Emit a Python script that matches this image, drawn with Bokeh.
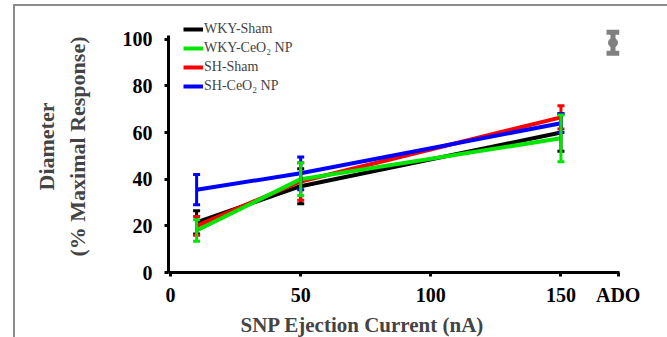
from bokeh.plotting import figure
from bokeh.models import (Range1d, ColumnDataSource, Whisker, TeeHead, Legend,
                          LegendItem, Title, FixedTicker)
from bokeh.embed import file_html
from bokeh.resources import INLINE

# ---- data ----
currents = [10, 50, 150]
series_names = ["WKY-Sham", "SH-Sham", "SH-CeO\u2082 NP", "WKY-CeO\u2082 NP"]
series_colors = ["#000000", "#ff0000", "#0000ff", "#00e600"]
wky_sham = [21.5, 37, 60]
wky_sham_err = [5, 7.5, 8]
sh_sham = [20, 39, 66.5]
sh_sham_err = [4, 8, 5]
sh_ceo2 = [35.5, 42.5, 64]
sh_ceo2_err = [6.5, 7, 4]
wky_ceo2 = [18, 40, 57.5]
wky_ceo2_err = [4.6, 7, 10]
ado_x = [170]
ado_y = [98.5]
ado_err = [4.5]
x_ticks = [0, 50, 100, 150, 172]
x_tick_labels = ["0", "50", "100", "150", "ADO"]
y_ticks = [0, 20, 40, 60, 80, 100]

values = [wky_sham, sh_sham, sh_ceo2, wky_ceo2]
errors = [wky_sham_err, sh_sham_err, sh_ceo2_err, wky_ceo2_err]

FONT = "Liberation Serif"

p = figure(width=652, height=331, x_range=Range1d(-0.8, 172.5), y_range=Range1d(0, 108),
           output_backend="svg", toolbar_location=None,
           min_border_left=153, min_border_right=50, min_border_top=14, min_border_bottom=67)
# grey panel frame (top and left edges) around the figure
p.styles = {"border-top": "2px solid #8c8c8c", "border-left": "2px solid #8c8c8c",
            "margin-left": "13px", "margin-top": "4px", "box-sizing": "content-box"}
p.outline_line_color = None
p.xgrid.visible = False
p.ygrid.visible = False

renderers = {}
for name, col, vals, errs in zip(series_names, series_colors, values, errors):
    src = ColumnDataSource(dict(x=currents, y=vals,
                                upper=[v + e for v, e in zip(vals, errs)],
                                lower=[v - e for v, e in zip(vals, errs)]))
    r = p.line("x", "y", source=src, line_color=col, line_width=4)
    w = Whisker(base="x", upper="upper", lower="lower", source=src, level="glyph",
                line_color=col, line_width=3,
                upper_head=TeeHead(size=7, line_color=col, line_width=3),
                lower_head=TeeHead(size=7, line_color=col, line_width=3))
    p.add_layout(w)
    renderers[name] = r

ado_src = ColumnDataSource(dict(x=ado_x, y=ado_y,
                                upper=[v + e for v, e in zip(ado_y, ado_err)],
                                lower=[v - e for v, e in zip(ado_y, ado_err)]))
p.add_layout(Whisker(base="x", upper="upper", lower="lower", source=ado_src,
                     line_color="#808080", line_width=5,
                     upper_head=TeeHead(size=13, line_color="#808080", line_width=5),
                     lower_head=TeeHead(size=13, line_color="#808080", line_width=5)))
p.scatter("x", "y", source=ado_src, size=9, color="#808080")

# axes
for ax in (p.xaxis[0], p.yaxis[0]):
    ax.axis_line_width = 3
    ax.axis_line_color = "#000000"
    ax.major_tick_line_width = 3
    ax.major_tick_in = 0
    ax.major_tick_out = 4
    ax.minor_tick_line_color = None
    ax.major_label_text_font = FONT
    ax.major_label_text_font_size = "20px"
    ax.major_label_text_font_style = "bold"
    ax.major_label_text_color = "#000000"

p.xaxis[0].ticker = FixedTicker(ticks=x_ticks)
p.xaxis[0].major_label_overrides = {t: l for t, l in zip(x_ticks, x_tick_labels)}
p.xaxis[0].major_label_standoff = 7
p.yaxis[0].ticker = FixedTicker(ticks=y_ticks)
p.yaxis[0].major_label_standoff = 12
p.yaxis[0].bounds = (0, 101.5)

p.yaxis[0].axis_label = "(% Maximal Response)"
p.yaxis[0].axis_label_text_font = FONT
p.yaxis[0].axis_label_text_font_size = "22px"
p.yaxis[0].axis_label_text_font_style = "bold"
p.yaxis[0].axis_label_standoff = 30

p.add_layout(Title(text="Diameter", align="center", text_font=FONT, text_font_size="22px",
                   text_font_style="bold", standoff=5), "left")
p.add_layout(Title(text="SNP Ejection Current  (nA)", align="left", offset=72,
                   text_font=FONT, text_font_size="21px", text_font_style="bold",
                   standoff=4), "below")

legend_order = ["WKY-Sham", "WKY-CeO\u2082 NP", "SH-Sham", "SH-CeO\u2082 NP"]
legend = Legend(items=[LegendItem(label=n, renderers=[renderers[n]]) for n in legend_order],
                location=(15, 178), orientation="vertical",
                label_text_font=FONT, label_text_font_size="14px",
                label_height=14, glyph_height=14, glyph_width=20, label_standoff=1,
                spacing=3, padding=0, margin=0,
                border_line_color=None, background_fill_alpha=0)
p.add_layout(legend, "center")

open("out.html", "w").write(file_html(p, INLINE))
